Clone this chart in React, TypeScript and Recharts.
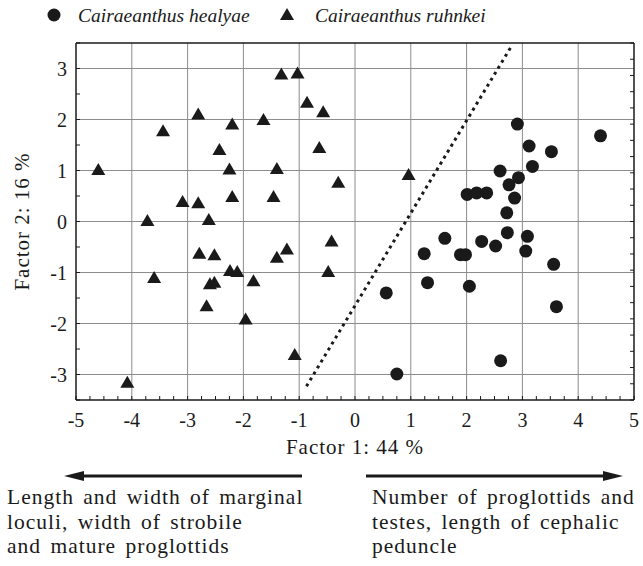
import React from "react"
import { CartesianGrid, ReferenceLine, Scatter, ScatterChart, XAxis, YAxis } from "recharts"

// Factor scores
const healyaeX = [2.91, 4.4, 3.12, 3.52, 3.18, 2.6, 2.93, 2.76, 2.01, 2.18, 2.36, 2.86, 2.72, 2.73, 3.09, 3.06, 2.27, 2.52, 1.61, 1.24, 1.89, 1.98, 3.56, 1.3, 2.05, 0.56, 3.61, 2.61, 0.75]
const healyaeY = [1.91, 1.68, 1.48, 1.37, 1.08, 0.99, 0.86, 0.72, 0.53, 0.56, 0.56, 0.46, 0.17, -0.22, -0.29, -0.58, -0.39, -0.48, -0.33, -0.63, -0.65, -0.65, -0.84, -1.2, -1.27, -1.4, -1.67, -2.73, -2.99]

const ruhnkeiX = [-4.6, -3.44, -2.81, -2.2, -2.43, -2.25, -2.2, -3.09, -2.81, -2.62, -3.72, -1.64, -1.32, -1.03, -0.86, -0.57, -0.64, -1.4, -1.46, -0.3, 0.96, -2.79, -2.52, -3.6, -2.24, -2.11, -2.6, -2.52, -1.82, -2.66, -1.96, -1.4, -1.22, -0.42, -0.48, -1.08, -4.08]
const ruhnkeiY = [1.01, 1.77, 2.1, 1.9, 1.4, 1.02, 0.48, 0.38, 0.36, 0.03, 0.01, 1.99, 2.88, 2.9, 2.33, 2.14, 1.44, 1.03, 0.48, 0.76, 0.91, -0.63, -0.66, -1.11, -0.97, -0.99, -1.23, -1.2, -1.17, -1.66, -1.92, -0.71, -0.55, -0.39, -0.99, -2.62, -3.16]

// discriminating line (dotted)
const splitLine = [
  { x: -0.87, y: -3.23 },
  { x: 2.81, y: 3.45 },
]

const xGrid = [-4, -3, -2, -1, 0, 1, 2, 3, 4]
const yGrid = [-3, -2, -1, 0, 1, 2, 3]

const bottomTicks = Array.from({ length: 41 }, (_, i) => -5 + i * 0.25)
const leftTicks = Array.from({ length: 15 }, (_, i) => -3.5 + i * 0.5)
const topTicks = Array.from({ length: 17 }, (_, i) => -5 + i * 0.625)
const rightTicks = Array.from({ length: 23 }, (_, i) => -3.5 + (i * 7) / 22)

const leftNote = ["Length and width of marginal", "loculi, width of strobile", "and mature proglottids"]
const rightNote = ["Number of proglottids and", "testes, length of cephalic", "peduncle"]

const healyae = healyaeX.map((x, i) => ({ x, y: healyaeY[i] }))
const ruhnkei = ruhnkeiX.map((x, i) => ({ x, y: ruhnkeiY[i] }))

const FONT = "'Liberation Serif', 'Times New Roman', serif"
const INK = "#1a1a1a"
const serif = { fontFamily: FONT, fill: INK }
const titleStyle = { fontFamily: FONT, fill: INK, fontSize: 21, letterSpacing: 1, textAnchor: "middle" as const }
const noteStyle = { fontFamily: FONT, fill: INK, fontSize: 21.5, letterSpacing: 1, wordSpacing: 3 }

const isMajor = (v: number) => Math.abs(v - Math.round(v)) < 1e-6

const BottomTick = ({ x, y, payload }: any) => (
  <g>
    <line x1={x} x2={x} y1={y} y2={y - 4} stroke={INK} strokeWidth={1} />
    {isMajor(payload.value) && (
      <text x={x} y={y + 27} textAnchor="middle" style={{ ...serif, fontSize: 20 }}>
        {Math.round(payload.value)}
      </text>
    )}
  </g>
)

const LeftTick = ({ x, y, payload }: any) => (
  <g>
    <line x1={x} x2={x + 4} y1={y} y2={y} stroke={INK} strokeWidth={1} />
    {isMajor(payload.value) && Math.abs(payload.value) < 3.2 && (
      <text x={x - 9} y={y} dy="0.35em" textAnchor="end" style={{ ...serif, fontSize: 20 }}>
        {Math.round(payload.value)}
      </text>
    )}
  </g>
)

const TopTick = ({ x, y }: any) => <line x1={x} x2={x} y1={y} y2={y + 4} stroke={INK} strokeWidth={1} />
const RightTick = ({ x, y }: any) => <line x1={x} x2={x - 4} y1={y} y2={y} stroke={INK} strokeWidth={1} />

const Dot = ({ cx, cy }: any) => <circle cx={cx} cy={cy} r={6.5} fill={INK} />
const Tri = ({ cx, cy }: any) => (
  <polygon points={`${cx},${cy - 7} ${cx - 7},${cy + 5} ${cx + 7},${cy + 5}`} fill={INK} />
)

export default function App() {
  return (
    <div style={{ position: "absolute", left: 0, top: 0, width: 643, height: 566, background: "#fff" }}>
      <ScatterChart width={643} height={566} margin={{ top: 42, right: 8, bottom: 136, left: 16 }}>
        <CartesianGrid stroke="#8c8c8c" strokeWidth={1} verticalValues={xGrid} horizontalValues={yGrid} />
        <XAxis
          type="number"
          dataKey="x"
          domain={[-5, 5]}
          ticks={bottomTicks}
          interval={0}
          tickSize={0}
          tickMargin={0}
          tickLine={false}
          tick={BottomTick}
          height={30}
          allowDataOverflow
          axisLine={{ stroke: INK, strokeWidth: 1.5 }}
          label={{ value: "Factor 1: 44 %", position: "bottom", offset: 9, style: titleStyle }}
        />
        <XAxis
          xAxisId="top"
          orientation="top"
          type="number"
          domain={[-5, 5]}
          ticks={topTicks}
          interval={0}
          tickSize={0}
          tickMargin={0}
          tickLine={false}
          tick={TopTick}
          height={1}
          allowDataOverflow
          axisLine={{ stroke: INK, strokeWidth: 1.5 }}
        />
        <YAxis
          type="number"
          dataKey="y"
          domain={[-3.5, 3.5]}
          ticks={leftTicks}
          interval={0}
          tickSize={0}
          tickMargin={0}
          tickLine={false}
          tick={LeftTick}
          width={60}
          allowDataOverflow
          axisLine={{ stroke: INK, strokeWidth: 1.5 }}
          label={{ value: "Factor 2: 16 %", angle: -90, position: "insideLeft", offset: 6, style: titleStyle }}
        />
        <YAxis
          yAxisId="right"
          orientation="right"
          type="number"
          domain={[-3.5, 3.5]}
          ticks={rightTicks}
          interval={0}
          tickSize={0}
          tickMargin={0}
          tickLine={false}
          tick={RightTick}
          width={1}
          allowDataOverflow
          axisLine={{ stroke: INK, strokeWidth: 1.5 }}
        />
        <ReferenceLine segment={splitLine} stroke={INK} strokeWidth={3} strokeDasharray="3 4" />
        <Scatter name="Cairaeanthus healyae" data={healyae} shape={Dot} isAnimationActive={false} />
        <Scatter name="Cairaeanthus ruhnkei" data={ruhnkei} shape={Tri} isAnimationActive={false} />
      </ScatterChart>

      <svg width={643} height={566} style={{ position: "absolute", left: 0, top: 0, pointerEvents: "none" }}>
        <g fill={INK}>
          <circle cx={54} cy={15} r={6.5} />
          <text x={78} y={22} style={{ ...serif, fontSize: 19.5, fontStyle: "italic" }}>Cairaeanthus healyae</text>
          <polygon points="287,8 280,20 294,20" />
          <text x={315} y={22} style={{ ...serif, fontSize: 19.5, fontStyle: "italic" }}>Cairaeanthus ruhnkei</text>

          <line x1={80} x2={302} y1={476} y2={476} stroke={INK} strokeWidth={3} />
          <polygon points="64,476 84,471 84,481" />
          <line x1={366} x2={606} y1={476} y2={476} stroke={INK} strokeWidth={3} />
          <polygon points="623,476 603,471 603,481" />

          {leftNote.map((line, i) => (
            <text key={line} x={7} y={504 + i * 24.5} style={noteStyle}>{line}</text>
          ))}
          {rightNote.map((line, i) => (
            <text key={line} x={372} y={504 + i * 24.5} style={noteStyle}>{line}</text>
          ))}
        </g>
      </svg>
    </div>
  )
}
